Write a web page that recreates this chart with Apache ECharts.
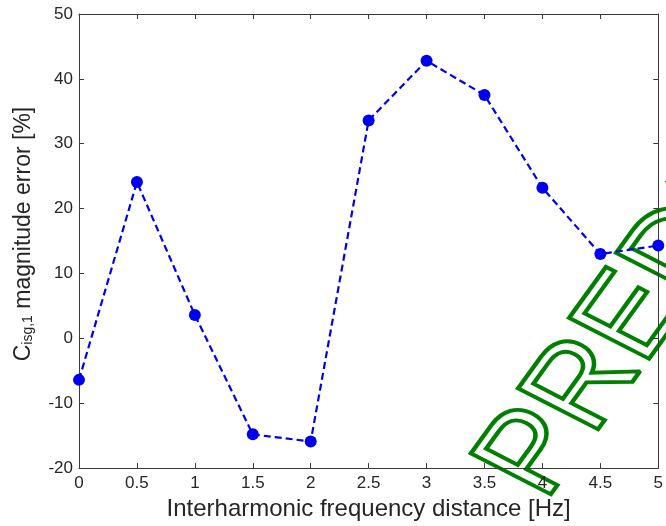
<!DOCTYPE html>
<html>
<head>
<meta charset="utf-8">
<script src="https://cdn.jsdelivr.net/npm/echarts@6/dist/echarts.min.js"></script>
<style>
  html, body { margin: 0; padding: 0; background: #fff; }
  #chart { width: 666px; height: 526px; }
</style>
</head>
<body>
<div id="chart"></div>
<script>
// interharmonic distance [Hz] vs magnitude error [%]
const distances = [0, 0.5, 1, 1.5, 2, 2.5, 3, 3.5, 4, 4.5, 5];
const errors = [-6.4, 24.1, 3.6, -14.8, -15.9, 33.6, 42.8, 37.5, 23.2, 13.0, 14.3];

const axisColor = '#3a3a3a';
const textColor = '#262626';
const lineBlue = '#0000f0';

const chart = echarts.init(document.getElementById('chart'), null, { renderer: 'canvas' });

const baseX = {
  type: 'value', min: 0, max: 5, interval: 0.5,
  axisLine: { show: true, onZero: false, lineStyle: { color: axisColor, width: 1 } },
  axisTick: { show: true, inside: true, length: 5, lineStyle: { color: axisColor } },
  splitLine: { show: false },
};
const baseY = {
  type: 'value', min: -20, max: 50, interval: 10,
  axisLine: { show: true, onZero: false, lineStyle: { color: axisColor, width: 1 } },
  axisTick: { show: true, inside: true, length: 5, lineStyle: { color: axisColor } },
  splitLine: { show: false },
};

// watermark is a bit squashed vertically in the source picture
const wmAngle = 58.7 * Math.PI / 180;

chart.setOption({
  backgroundColor: '#ffffff',
  animation: false,
  grid: { left: 79, top: 14, right: 7, bottom: 56 },
  xAxis: [
    Object.assign({}, baseX, {
      position: 'bottom',
      axisLabel: { color: textColor, fontSize: 17, fontFamily: 'Liberation Sans, Arial', margin: 7 },
      name: 'Interharmonic frequency distance [Hz]',
      nameLocation: 'middle',
      nameGap: 28,
      nameTextStyle: { color: textColor, fontSize: 24, fontFamily: 'Liberation Sans, Arial' },
    }),
    Object.assign({}, baseX, { position: 'top', axisLabel: { show: false } }),
  ],
  yAxis: [
    Object.assign({}, baseY, {
      position: 'left',
      axisLabel: { color: textColor, fontSize: 17, fontFamily: 'Liberation Sans, Arial', margin: 6 },
      name: '{m|C}{s|isg,1}{m| magnitude error [%]}',
      nameLocation: 'middle',
      nameGap: 44,
      nameTextStyle: {
        color: textColor,
        padding: [0, 0, 0, 14],
        rich: {
          m: { fontSize: 23, fontFamily: 'Liberation Sans, Arial', color: textColor },
          s: { fontSize: 14, fontFamily: 'Liberation Sans, Arial', color: textColor, verticalAlign: 'bottom', padding: [8, 0, 0, 0] },
        },
      },
    }),
    Object.assign({}, baseY, { position: 'right', axisLabel: { show: false } }),
  ],
  series: [{
    type: 'line',
    data: distances.map((d, i) => [d, errors[i]]),
    symbol: 'circle',
    symbolSize: 12,
    lineStyle: { color: lineBlue, width: 2.2, type: [7, 4] },
    itemStyle: { color: lineBlue },
    z: 2,
  }],
  graphic: [{
    type: 'group',
    x: 513,
    y: 486,
    scaleX: 1,
    scaleY: 0.84,
    z: 100,
    children: [{
      type: 'text',
      rotation: wmAngle,
      style: {
        text: 'PREDICT',
        font: '136px "Liberation Sans", Arial',
        fill: 'rgba(0,0,0,0)',
        stroke: '#008000',
        lineWidth: 4.5,
        textAlign: 'left',
        textVerticalAlign: 'middle',
      },
    }],
  }],
});
</script>
</body>
</html>
